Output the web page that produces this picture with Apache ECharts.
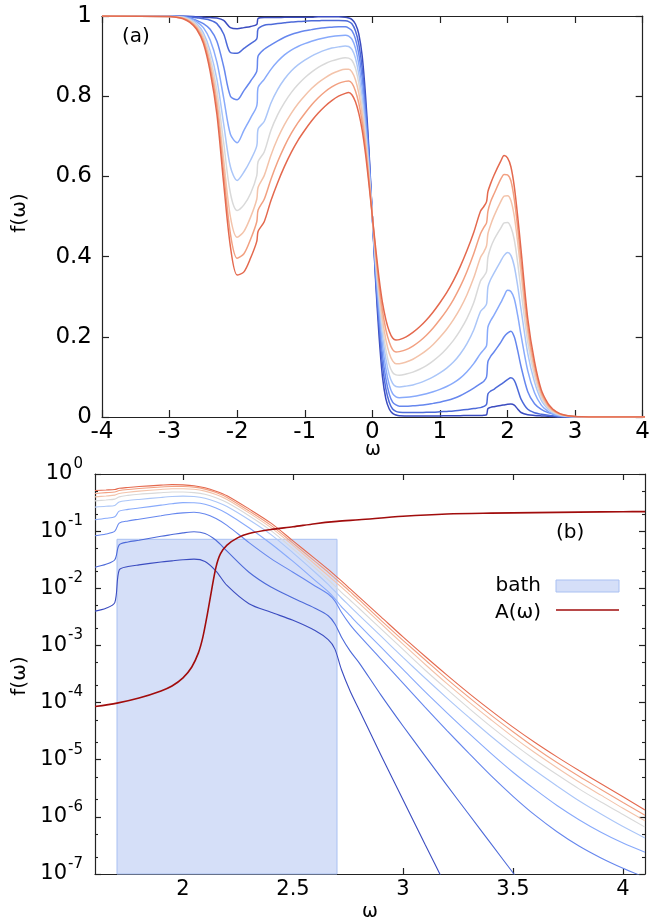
<!DOCTYPE html>
<html>
<head>
<meta charset="utf-8">
<script src="https://cdn.jsdelivr.net/npm/echarts@6.0.0/dist/echarts.min.js"></script>
<style>
  html, body { margin: 0; padding: 0; background: #fff; }
  #chart { width: 653px; height: 923px; }
</style>
</head>
<body>
<div id="chart"></div>
<script>
// Distribution functions f(ω) for nine coupling strengths (blue -> red),
// the spectral function A(ω) and the bath window.

// ω samples, negative side (panel a)
const omegaNeg = [-4, -3, -2.9, -2.8, -2.7, -2.6, -2.5, -2.4, -2.3, -2.2, -2.1, -2.0, -1.9, -1.8, -1.71, -1.69, -1.6,
  -1.5, -1.4, -1.3, -1.2, -1.1, -1.0, -0.9, -0.8, -0.7, -0.6, -0.5, -0.4, -0.35, -0.3, -0.25, -0.2, -0.15, -0.1, -0.05];
// ω samples from 0 to 1.5 (panel a)
const omegaLow = [0, 0.05, 0.1, 0.15, 0.2, 0.25, 0.3, 0.35, 0.4, 0.5, 0.6, 0.7, 0.8, 0.9, 1.0, 1.1, 1.2, 1.3, 1.4, 1.5];
// ω samples from 1.6 upward (both panels)
const omegaHigh = [1.6, 1.65, 1.69, 1.71, 1.75, 1.8, 1.9, 1.95, 2.0, 2.05, 2.1, 2.15, 2.2, 2.3, 2.4, 2.5, 2.6, 2.66, 2.69,
  2.72, 2.76, 2.8, 2.9, 3.0, 3.1, 3.2, 3.3, 3.4, 3.5, 3.6, 3.7, 3.8, 3.9, 4.0, 4.1];

// f(ω) on omegaNeg
const fNeg1 = [1.0, 1.0, 1.0, 1.0, 0.9994, 0.998, 0.997, 0.996, 0.995, 0.989, 0.971, 0.968, 0.971, 0.974, 0.979, 0.994, 0.996,
  0.996, 0.996, 0.997, 0.997, 0.997, 0.997, 0.997, 0.998, 0.998, 0.998, 0.998, 0.997, 0.995, 0.991, 0.98, 0.955, 0.90, 0.80, 0.665];
const fNeg2 = [1.0, 1.0, 1.0, 0.9995, 0.998, 0.9955, 0.993, 0.9895, 0.981, 0.955, 0.909, 0.907, 0.919, 0.931, 0.943, 0.968, 0.977,
  0.979, 0.981, 0.983, 0.985, 0.986, 0.987, 0.988, 0.988, 0.989, 0.989, 0.989, 0.988, 0.986, 0.98, 0.963, 0.93, 0.87, 0.775, 0.655];
const fNeg3 = [1.0, 1.0, 0.999, 0.998, 0.995, 0.989, 0.981, 0.967, 0.937, 0.874, 0.80, 0.791, 0.814, 0.838, 0.862, 0.90, 0.917,
  0.928, 0.938, 0.947, 0.954, 0.959, 0.963, 0.966, 0.969, 0.971, 0.972, 0.973, 0.973, 0.97, 0.963, 0.943, 0.905, 0.845, 0.755, 0.645];
const fNeg4 = [1.0, 1.0, 0.999, 0.998, 0.994, 0.986, 0.971, 0.94, 0.885, 0.796, 0.705, 0.684, 0.715, 0.746, 0.776, 0.822, 0.842,
  0.867, 0.887, 0.903, 0.915, 0.924, 0.931, 0.937, 0.942, 0.946, 0.949, 0.951, 0.952, 0.95, 0.942, 0.92, 0.88, 0.82, 0.735, 0.63];
const fNeg5 = [1.0, 0.999, 0.999, 0.997, 0.992, 0.981, 0.958, 0.913, 0.842, 0.731, 0.624, 0.59, 0.611, 0.641, 0.676, 0.718, 0.737,
  0.783, 0.817, 0.843, 0.863, 0.878, 0.89, 0.90, 0.908, 0.915, 0.92, 0.923, 0.925, 0.924, 0.916, 0.895, 0.855, 0.795, 0.715, 0.62];
const fNeg6 = [1.0, 0.999, 0.998, 0.996, 0.99, 0.977, 0.951, 0.898, 0.814, 0.684, 0.558, 0.515, 0.529, 0.558, 0.602, 0.637, 0.661,
  0.715, 0.754, 0.784, 0.809, 0.829, 0.846, 0.86, 0.872, 0.881, 0.888, 0.893, 0.896, 0.895, 0.889, 0.87, 0.832, 0.775, 0.70, 0.61];
const fNeg7 = [1.0, 0.999, 0.998, 0.995, 0.988, 0.974, 0.944, 0.885, 0.791, 0.641, 0.499, 0.448, 0.463, 0.499, 0.543, 0.573, 0.602,
  0.653, 0.695, 0.729, 0.757, 0.781, 0.801, 0.819, 0.834, 0.846, 0.856, 0.863, 0.867, 0.867, 0.86, 0.841, 0.807, 0.755, 0.685, 0.60];
const fNeg8 = [1.0, 0.999, 0.997, 0.994, 0.986, 0.97, 0.938, 0.874, 0.774, 0.611, 0.457, 0.396, 0.407, 0.444, 0.487, 0.516, 0.543,
  0.593, 0.637, 0.675, 0.707, 0.734, 0.757, 0.778, 0.796, 0.811, 0.823, 0.832, 0.837, 0.838, 0.832, 0.813, 0.782, 0.735, 0.67, 0.59];
const fNeg9 = [1.0, 0.999, 0.997, 0.993, 0.984, 0.967, 0.932, 0.862, 0.755, 0.583, 0.425, 0.354, 0.362, 0.397, 0.438, 0.463, 0.487,
  0.54, 0.585, 0.625, 0.66, 0.69, 0.715, 0.738, 0.758, 0.775, 0.789, 0.80, 0.807, 0.809, 0.803, 0.786, 0.757, 0.715, 0.655, 0.58];

// f(ω) on omegaLow
const fLow1 = [0.5, 0.335, 0.2, 0.1, 0.045, 0.02, 0.009, 0.005, 0.003, 0.0025, 0.0024, 0.0024, 0.0025, 0.0026, 0.0028, 0.003, 0.0032, 0.0034, 0.0037, 0.0039];
const fLow2 = [0.5, 0.345, 0.225, 0.13, 0.07, 0.037, 0.02, 0.014, 0.012, 0.011, 0.011, 0.011, 0.012, 0.012, 0.013, 0.014, 0.015, 0.017, 0.019, 0.021];
const fLow3 = [0.5, 0.355, 0.245, 0.155, 0.095, 0.057, 0.037, 0.03, 0.027, 0.027, 0.028, 0.029, 0.031, 0.034, 0.037, 0.041, 0.046, 0.053, 0.062, 0.072];
const fLow4 = [0.5, 0.37, 0.265, 0.18, 0.12, 0.08, 0.058, 0.05, 0.048, 0.049, 0.051, 0.054, 0.058, 0.063, 0.069, 0.076, 0.085, 0.097, 0.113, 0.133];
const fLow5 = [0.5, 0.38, 0.285, 0.205, 0.145, 0.105, 0.084, 0.076, 0.075, 0.077, 0.08, 0.085, 0.092, 0.1, 0.11, 0.122, 0.137, 0.157, 0.183, 0.217];
const fLow6 = [0.5, 0.39, 0.30, 0.225, 0.168, 0.13, 0.111, 0.105, 0.104, 0.107, 0.112, 0.119, 0.128, 0.14, 0.154, 0.171, 0.191, 0.216, 0.246, 0.285];
const fLow7 = [0.5, 0.40, 0.315, 0.245, 0.193, 0.159, 0.14, 0.133, 0.133, 0.137, 0.144, 0.154, 0.166, 0.181, 0.199, 0.219, 0.243, 0.271, 0.305, 0.347];
const fLow8 = [0.5, 0.41, 0.33, 0.265, 0.218, 0.187, 0.168, 0.162, 0.163, 0.168, 0.177, 0.189, 0.204, 0.222, 0.243, 0.266, 0.293, 0.325, 0.363, 0.407];
const fLow9 = [0.5, 0.42, 0.345, 0.285, 0.243, 0.214, 0.197, 0.192, 0.193, 0.2, 0.211, 0.225, 0.242, 0.262, 0.285, 0.31, 0.34, 0.375, 0.415, 0.46];

// f(ω) on omegaHigh (the two weakest curves leave the log window early)
const fHigh1 = [0.00398, 0.00447, 0.00562, 0.0209, 0.024, 0.0257, 0.0288, 0.0302, 0.0316, 0.0324, 0.0295, 0.02, 0.0112,
  0.00537, 0.0038, 0.00275, 0.00182, 0.00126, 8.71e-4, 3.8e-4, 1.58e-4, 7.59e-5, 1.2e-5, 2.0e-6, 3.31e-7, 5.62e-8];
const fHigh2 = [0.0234, 0.0263, 0.0316, 0.0575, 0.0646, 0.0692, 0.0813, 0.0871, 0.0933, 0.0977, 0.0912, 0.0692, 0.0447,
  0.0191, 0.0105, 0.00676, 0.00447, 0.00331, 0.0024, 0.00141, 7.94e-4, 5.01e-4, 1.35e-4, 3.89e-5, 1.17e-5, 3.55e-6, 1.1e-6,
  3.39e-7, 1.05e-7, 3.16e-8];
const fHigh3 = [0.0832, 0.0891, 0.1, 0.138, 0.151, 0.162, 0.186, 0.2, 0.209, 0.214, 0.2, 0.166, 0.126,
  0.0631, 0.0331, 0.0191, 0.011, 0.00794, 0.00603, 0.0038, 0.00229, 0.00151, 5.75e-4, 2.19e-4, 8.32e-5, 3.24e-5, 1.29e-5,
  5.25e-6, 2.29e-6, 1.07e-6, 5.5e-7, 3.09e-7, 1.91e-7, 1.26e-7, 8.71e-8];
const fHigh4 = [0.158, 0.168, 0.178, 0.224, 0.240, 0.254, 0.285, 0.302, 0.316, 0.313, 0.295, 0.254, 0.204,
  0.115, 0.0603, 0.0295, 0.0138, 0.00871, 0.00661, 0.00479, 0.00331, 0.00229, 9.33e-4, 3.8e-4, 1.55e-4, 6.61e-5, 2.88e-5,
  1.29e-5, 6.03e-6, 3.02e-6, 1.58e-6, 8.91e-7, 5.37e-7, 3.47e-7, 2.4e-7];
const fHigh5 = [0.263, 0.272, 0.282, 0.324, 0.343, 0.359, 0.389, 0.403, 0.410, 0.403, 0.376, 0.327, 0.269,
  0.158, 0.0871, 0.0417, 0.0191, 0.0117, 0.00891, 0.00676, 0.00479, 0.00339, 0.00145, 6.17e-4, 2.69e-4, 1.2e-4, 5.5e-5,
  2.57e-5, 1.26e-5, 6.46e-6, 3.47e-6, 1.91e-6, 1.12e-6, 6.76e-7, 4.27e-7];
const fHigh6 = [0.339, 0.351, 0.363, 0.398, 0.422, 0.442, 0.471, 0.484, 0.485, 0.473, 0.442, 0.385, 0.316,
  0.186, 0.102, 0.049, 0.0229, 0.0141, 0.011, 0.00851, 0.00617, 0.00447, 0.00195, 8.51e-4, 3.72e-4, 1.7e-4, 7.94e-5,
  3.8e-5, 1.91e-5, 1.0e-5, 5.5e-6, 3.09e-6, 1.82e-6, 1.1e-6, 6.61e-7];
const fHigh7 = [0.398, 0.412, 0.427, 0.457, 0.479, 0.501, 0.537, 0.551, 0.552, 0.540, 0.501, 0.437, 0.359,
  0.209, 0.115, 0.0562, 0.0263, 0.0166, 0.0132, 0.0105, 0.00759, 0.0055, 0.0024, 0.00105, 4.68e-4, 2.14e-4, 1.02e-4,
  5.01e-5, 2.51e-5, 1.32e-5, 7.24e-6, 4.07e-6, 2.4e-6, 1.41e-6, 8.51e-7];
const fHigh8 = [0.457, 0.473, 0.484, 0.513, 0.537, 0.556, 0.593, 0.605, 0.604, 0.589, 0.543, 0.473, 0.389,
  0.226, 0.126, 0.0617, 0.0295, 0.0191, 0.0151, 0.0120, 0.00871, 0.00631, 0.00275, 0.00123, 5.62e-4, 2.57e-4, 1.23e-4,
  6.03e-5, 3.09e-5, 1.62e-5, 8.91e-6, 5.13e-6, 3.02e-6, 1.78e-6, 1.07e-6];
const fHigh9 = [0.513, 0.525, 0.537, 0.562, 0.582, 0.603, 0.638, 0.652, 0.646, 0.624, 0.575, 0.501, 0.417,
  0.245, 0.138, 0.0676, 0.0331, 0.0214, 0.0170, 0.0135, 0.00977, 0.00708, 0.00316, 0.00141, 6.46e-4, 3.02e-4, 1.45e-4,
  7.24e-5, 3.72e-5, 2.0e-5, 1.12e-5, 6.46e-6, 3.8e-6, 2.24e-6, 1.32e-6];

// spectral function A(ω)
const omegaA = [1.6, 1.7, 1.8, 1.9, 1.95, 2.0, 2.04, 2.07, 2.09, 2.11, 2.13, 2.15, 2.17, 2.2, 2.25, 2.3, 2.4, 2.5, 2.6,
  2.7, 2.8, 3.0, 3.2, 3.4, 3.6, 3.8, 4.0, 4.1];
const specA = [8.51e-5, 9.77e-5, 1.2e-4, 1.6e-4, 1.95e-4, 2.7e-4, 4.2e-4, 7.4e-4, 1.38e-3, 3.4e-3, 9.3e-3, 0.0235,
  0.04, 0.057, 0.077, 0.091, 0.107, 0.119, 0.135, 0.148, 0.158, 0.182, 0.2, 0.207, 0.211, 0.215, 0.219, 0.22];

// bath window
const bathBand = [1.7, 2.7];
const bathTop = 0.072;

// tick values
const xTicksB = [2, 2.5, 3, 3.5, 4];
const yTicksB = [1e-7, 1e-6, 1e-5, 1e-4, 1e-3, 1e-2, 1e-1, 1];

const curveColors = ['#3b4cc0', '#4d6ad9', '#6687ee', '#88aafb', '#abc6f8', '#d9d9d9', '#f3c3aa', '#f2a081', '#e4694e'];
const FONT = 'DejaVu Sans';

const fNeg = [fNeg1, fNeg2, fNeg3, fNeg4, fNeg5, fNeg6, fNeg7, fNeg8, fNeg9];
const fLow = [fLow1, fLow2, fLow3, fLow4, fLow5, fLow6, fLow7, fLow8, fLow9];
const fHigh = [fHigh1, fHigh2, fHigh3, fHigh4, fHigh5, fHigh6, fHigh7, fHigh8, fHigh9];

const pairs = (xs, ys) => ys.map((y, i) => [xs[i], y]);

// minor ticks of the log axis at 2 and 5 of each decade
const yMinorB = [];
for (let e = -7; e < 0; e++) { yMinorB.push(2 * Math.pow(10, e), 5 * Math.pow(10, e)); }

const frame = { show: true, onZero: false, lineStyle: { color: '#222', width: 1.2 } };
const tickA = { show: true, inside: true, length: 7, lineStyle: { color: '#222', width: 1.2 } };
const tickB = { show: true, inside: true, length: 6, lineStyle: { color: '#222', width: 1.2 } };
const noLabel = { show: false };
const noSplit = { show: false };

const chart = echarts.init(document.getElementById('chart'), null, { renderer: 'canvas' });

const SMOOTH = 0.3;
const series = [];
// panel (a)
fNeg.forEach((neg, k) => {
  series.push({
    type: 'line', xAxisIndex: 0, yAxisIndex: 0, showSymbol: false, smooth: SMOOTH,
    data: pairs(omegaNeg, neg).concat(pairs(omegaLow, fLow[k]), pairs(omegaHigh, fHigh[k])),
    lineStyle: { color: curveColors[k], width: 1.5 }, itemStyle: { color: curveColors[k] }, z: 3
  });
});
// panel (b): bath window
series.push({
  type: 'line', name: 'bath', xAxisIndex: 2, yAxisIndex: 2, data: [], z: 1,
  markArea: {
    silent: true,
    itemStyle: { color: '#d5dff8', borderColor: '#a9c0f2', borderWidth: 1 },
    data: [[{ xAxis: bathBand[0], yAxis: yTicksB[0] }, { xAxis: bathBand[1], yAxis: bathTop }]]
  }
});
fHigh.forEach((vals, k) => {
  series.push({
    type: 'line', xAxisIndex: 2, yAxisIndex: 2, showSymbol: false, smooth: SMOOTH,
    data: pairs(omegaHigh, vals),
    lineStyle: { color: curveColors[k], width: 1.1 }, itemStyle: { color: curveColors[k] }, z: 3
  });
});
series.push({
  type: 'line', name: 'A(ω)', xAxisIndex: 2, yAxisIndex: 2, showSymbol: false, smooth: SMOOTH,
  data: pairs(omegaA, specA),
  lineStyle: { color: '#a10c0c', width: 1.6 }, itemStyle: { color: '#a10c0c' }, z: 4
});

const txt = (text, x, y, size, align, extra) => Object.assign({
  type: 'text', x: x, y: y, silent: true,
  style: {
    text: text, font: size + 'px "' + FONT + '"', fill: '#000',
    align: align, textAlign: align, verticalAlign: 'middle', textVerticalAlign: 'middle'
  }
}, extra || {});

const option = {
  animation: false,
  backgroundColor: '#ffffff',
  textStyle: { fontFamily: FONT },
  grid: [
    { left: 102, top: 16, width: 543, height: 401 },
    { left: 95, top: 474, width: 550, height: 400 }
  ],
  xAxis: [
    { gridIndex: 0, type: 'value', min: -4, max: 4, interval: 1, position: 'bottom',
      axisLine: frame, axisTick: tickA, splitLine: noSplit,
      axisLabel: { fontSize: 23, color: '#000', margin: 4, fontFamily: FONT } },
    { gridIndex: 0, type: 'value', min: -4, max: 4, interval: 1, position: 'top',
      axisLine: frame, axisTick: tickA, splitLine: noSplit, axisLabel: noLabel },
    { gridIndex: 1, type: 'value', min: 1.6, max: 4.1, position: 'bottom',
      axisLine: frame, axisTick: Object.assign({ customValues: xTicksB }, tickB), splitLine: noSplit,
      axisLabel: { customValues: xTicksB, fontSize: 21, color: '#000', margin: 5, fontFamily: FONT } },
    { gridIndex: 1, type: 'value', min: 1.6, max: 4.1, position: 'top',
      axisLine: frame, axisTick: Object.assign({ customValues: xTicksB }, tickB), splitLine: noSplit, axisLabel: noLabel }
  ],
  yAxis: [
    { gridIndex: 0, type: 'value', min: 0, max: 1, interval: 0.2, position: 'left',
      axisLine: frame, axisTick: tickA, splitLine: noSplit,
      axisLabel: { fontSize: 23, color: '#000', margin: 10, fontFamily: FONT } },
    { gridIndex: 0, type: 'value', min: 0, max: 1, interval: 0.2, position: 'right',
      axisLine: frame, axisTick: tickA, splitLine: noSplit, axisLabel: noLabel },
    { gridIndex: 1, type: 'log', logBase: 10, min: 1e-7, max: 1, position: 'left',
      axisLine: frame, axisTick: Object.assign({ customValues: yTicksB }, tickB), splitLine: noSplit,
      axisLabel: {
        customValues: yTicksB, margin: 12, color: '#000', fontFamily: FONT,
        formatter: v => '{base|10}{sup|' + Math.round(Math.log10(v)) + '}',
        rich: {
          base: { fontSize: 21, fontFamily: FONT, color: '#000' },
          sup: { fontSize: 15, fontFamily: FONT, color: '#000', padding: [0, 0, 20, 1] }
        }
      } },
    { gridIndex: 1, type: 'log', logBase: 10, min: 1e-7, max: 1, position: 'right',
      axisLine: frame, axisTick: Object.assign({ customValues: yTicksB }, tickB), splitLine: noSplit, axisLabel: noLabel },
    { gridIndex: 1, type: 'log', logBase: 10, min: 1e-7, max: 1, position: 'left',
      axisLine: { show: false }, splitLine: noSplit, axisLabel: noLabel,
      axisTick: { show: true, inside: true, length: 3, customValues: yMinorB, lineStyle: { color: '#222', width: 1.1 } } },
    { gridIndex: 1, type: 'log', logBase: 10, min: 1e-7, max: 1, position: 'right',
      axisLine: { show: false }, splitLine: noSplit, axisLabel: noLabel,
      axisTick: { show: true, inside: true, length: 3, customValues: yMinorB, lineStyle: { color: '#222', width: 1.1 } } }
  ],
  series: series,
  graphic: [
    txt('(a)', 122, 37, 20, 'left'),
    txt('(b)', 556, 533, 20, 'left'),
    txt('f(ω)', 20, 213, 20, 'center', { rotation: Math.PI / 2 }),
    txt('f(ω)', 20, 676, 20, 'center', { rotation: Math.PI / 2 }),
    txt('ω', 373, 450, 19, 'center'),
    txt('ω', 370, 912, 19, 'center'),
    // key
    txt('bath', 541, 586, 20, 'right'),
    txt('A(ω)', 541, 613, 20, 'right'),
    { type: 'rect', silent: true, shape: { x: 556, y: 580, width: 63, height: 12 },
      style: { fill: '#d5dff8', stroke: '#a9c0f2', lineWidth: 1 } },
    { type: 'line', silent: true, shape: { x1: 556, y1: 610, x2: 619, y2: 610 },
      style: { stroke: '#a10c0c', lineWidth: 1.6 } }
  ]
};

chart.setOption(option);
</script>
</body>
</html>
